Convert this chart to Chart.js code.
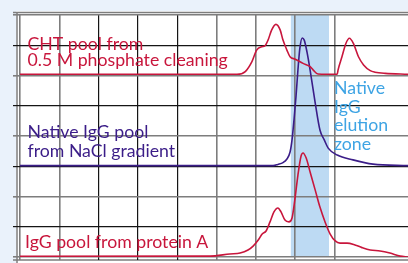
<!DOCTYPE html>
<html>
<head>
<meta charset="utf-8">
<script src="https://cdn.jsdelivr.net/npm/chart.js@4.4.1/dist/chart.umd.min.js"></script>
<style>
  body { margin: 0; background: #eaf2fb; }
  canvas { display: block; }
</style>
</head>
<body>
<canvas id="chrom" width="408" height="263"></canvas>
<script>
// chromatogram traces, in grid units (x: 1 unit per column, y: 1 unit per row)
var chtX = [0, 5.52, 5.73, 5.90, 6.02, 6.15, 6.23, 6.31, 6.40, 6.51, 6.62, 6.69, 6.79, 6.87, 7.00, 7.20, 7.38, 7.46, 7.58, 8.07, 8.09, 8.19, 8.29, 8.38, 8.48, 8.61, 8.74, 8.91, 9.03, 9.29, 9.87];
var chtY = [6.04, 6.04, 6.13, 6.46, 6.84, 6.95, 6.98, 7.17, 7.50, 7.69, 7.50, 7.17, 6.84, 6.62, 6.54, 6.40, 6.29, 6.18, 6.05, 6.04, 6.18, 6.62, 7.06, 7.23, 7.06, 6.62, 6.35, 6.16, 6.11, 6.07, 6.04];

var nativeX = [0, 6.44, 6.56, 6.69, 6.79, 6.87, 6.92, 6.97, 7.02, 7.07, 7.12, 7.18, 7.23, 7.30, 7.38, 7.51, 7.63, 7.74, 7.84, 8.07, 8.47, 8.98, 9.87];
var nativeY = [3.02, 3.02, 3.06, 3.12, 3.24, 3.47, 3.87, 4.53, 5.29, 6.18, 6.91, 7.24, 7.17, 6.78, 6.18, 5.09, 4.20, 3.87, 3.60, 3.37, 3.21, 3.07, 3.02];

var protAX = [0, 4.83, 5.34, 5.60, 5.80, 5.93, 6.06, 6.16, 6.26, 6.36, 6.46, 6.56, 6.64, 6.74, 6.84, 6.92, 6.99, 7.07, 7.15, 7.20, 7.28, 7.38, 7.51, 7.63, 7.76, 7.89, 8.02, 8.14, 8.32, 8.52, 8.70, 8.91, 9.16, 9.41, 9.67, 9.87];
var protAY = [0.02, 0.03, 0.10, 0.13, 0.23, 0.36, 0.56, 0.76, 0.86, 1.16, 1.49, 1.62, 1.49, 1.22, 1.16, 1.29, 1.88, 2.71, 3.34, 3.44, 3.27, 2.81, 2.21, 1.65, 1.16, 0.76, 0.53, 0.46, 0.46, 0.40, 0.31, 0.23, 0.20, 0.13, 0.03, 0.0];

// native IgG elution zone (x range)
var zoneRange = [6.89, 7.86];

var red = '#c8163c';
var purple = '#3b1d88';
var sky = '#3ea4e4';
var gray = '#7d7d7d';
var black = '#151515';

function pts(xs, ys) {
  return xs.map(function (x, i) { return { x: x, y: ys[i] }; });
}

var labels = [
  { text: 'CHT pool from', x: 27.5, y: 50, color: red },
  { text: '0.5 M phosphate cleaning', x: 27.5, y: 66, color: red },
  { text: 'Native IgG pool', x: 27.5, y: 138, color: purple },
  { text: 'from NaCl gradient', x: 27.5, y: 157, color: purple },
  { text: 'IgG pool from protein A', x: 25, y: 248, color: red },
  { text: 'Native', x: 334, y: 94, color: sky },
  { text: 'IgG', x: 334, y: 112.5, color: sky },
  { text: 'elution', x: 334, y: 131, color: sky },
  { text: 'zone', x: 334, y: 149.5, color: sky }
];

var backdrop = {
  id: 'backdrop',
  beforeDraw: function (chart) {
    var c = chart.ctx, a = chart.chartArea, xs = chart.scales.x;
    c.save();
    c.fillStyle = '#eaf2fb';
    c.fillRect(0, 0, chart.width, chart.height);
    c.fillStyle = '#ffffff';
    c.fillRect(16, 11, chart.width - 16, chart.height - 11);
    c.fillStyle = '#bddaf3';
    var x0 = xs.getPixelForValue(zoneRange[0]), x1 = xs.getPixelForValue(zoneRange[1]);
    c.fillRect(x0, a.top, x1 - x0, a.bottom - a.top);
    // outer frame (double line look)
    c.strokeStyle = gray;
    c.lineWidth = 1.5;
    c.beginPath();
    c.moveTo(13, a.top - 2.5); c.lineTo(chart.width, a.top - 2.5);
    c.moveTo(13, a.bottom + 3); c.lineTo(chart.width, a.bottom + 3);
    c.moveTo(a.left - 3, a.top - 2.5); c.lineTo(a.left - 3, chart.height);
    c.stroke();
    c.restore();
  },
  beforeDatasetsDraw: function (chart) {
    var c = chart.ctx;
    c.save();
    c.font = '17.7px Lato';
    c.textBaseline = 'alphabetic';
    labels.forEach(function (l) {
      c.fillStyle = l.color;
      c.fillText(l.text, l.x, l.y);
    });
    c.restore();
  }
};

function gridColor(kind) {
  return function (ctx) {
    var v = ctx.tick ? ctx.tick.value : 0;
    if (Math.abs(v - Math.round(v)) > 0.01) return 'rgba(0,0,0,0)';
    if (kind === 'y') return (v % 2 === 0) ? gray : black;
    return [0, 1, 5, 6, 7, 8].indexOf(v) >= 0 ? gray : black;
  };
}
function gridWidth(kind) {
  return function (ctx) {
    return gridColor(kind)(ctx) === gray ? 1.6 : 1.2;
  };
}

new Chart(document.getElementById('chrom'), {
  type: 'line',
  data: {
    datasets: [
      { label: 'CHT pool', data: pts(chtX, chtY), borderColor: red },
      { label: 'Native IgG pool', data: pts(nativeX, nativeY), borderColor: purple },
      { label: 'Protein A pool', data: pts(protAX, protAY), borderColor: red }
    ]
  },
  options: {
    responsive: false,
    animation: false,
    devicePixelRatio: 1,
    layout: { padding: { left: 13, top: 15, right: 0, bottom: 3 } },
    elements: {
      line: { borderWidth: 1.6, cubicInterpolationMode: 'monotone', fill: false },
      point: { radius: 0 }
    },
    plugins: { legend: { display: false }, tooltip: { enabled: false } },
    scales: {
      x: {
        type: 'linear', min: 0, max: 9.87,
        ticks: { display: false, stepSize: 1 },
        border: { display: false },
        grid: { color: gridColor('x'), lineWidth: gridWidth('x'), drawTicks: true, tickLength: 3 }
      },
      y: {
        type: 'linear', min: 0, max: 8,
        ticks: { display: false, stepSize: 1 },
        border: { display: false },
        grid: { color: gridColor('y'), lineWidth: gridWidth('y'), drawTicks: true, tickLength: 7 }
      }
    }
  },
  plugins: [backdrop]
});
</script>
</body>
</html>
